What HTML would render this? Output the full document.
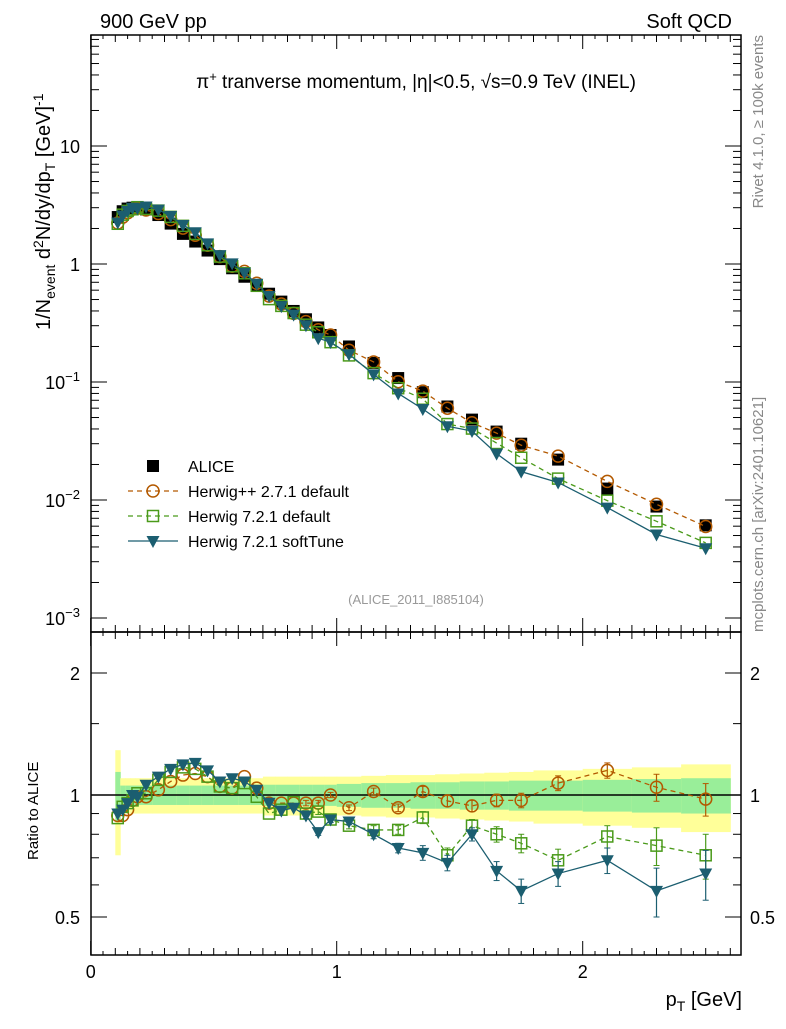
<!DOCTYPE html>
<html><head><meta charset="utf-8"><style>
body{margin:0;background:#fff}
svg text{font-family:"Liberation Sans",sans-serif}
</style></head><body>
<svg id="c" width="786" height="1024" xmlns="http://www.w3.org/2000/svg">
<text x="100" y="28" font-size="20">900 GeV pp</text>
<text x="732" y="28" font-size="20" text-anchor="end">Soft QCD</text>
<text x="416" y="88" font-size="19" text-anchor="middle">π<tspan dy="-7" font-size="13">+</tspan><tspan dy="7"> tranverse momentum, |η|&lt;0.5, √s=0.9 TeV (INEL)</tspan></text>
<text x="416" y="604" font-size="13" fill="#999" text-anchor="middle">(ALICE_2011_I885104)</text>
<text transform="translate(763,35) rotate(-90)" font-size="15" fill="#888" text-anchor="end">Rivet 4.1.0, ≥ 100k events</text>
<text transform="translate(763,632) rotate(-90)" font-size="15" fill="#888">mcplots.cern.ch [arXiv:2401.10621]</text>
<text transform="translate(50,330) rotate(-90)" font-size="20">1/N<tspan font-size="14" dy="5">event</tspan><tspan dy="-5"> d</tspan><tspan font-size="14" dy="-7">2</tspan><tspan dy="7">N/dy/dp</tspan><tspan font-size="14" dy="5">T</tspan><tspan dy="-5"> [GeV]</tspan><tspan font-size="14" dy="-7">-1</tspan></text>
<text transform="translate(38,860) rotate(-90)" font-size="15">Ratio to ALICE</text>
<text x="742" y="1006" font-size="20" text-anchor="end">p<tspan font-size="14" dy="5">T</tspan><tspan dy="-5"> [GeV]</tspan></text>
<g id="g"></g>
</svg>
<script>
const pt=[0.11,0.13,0.15,0.17,0.19,0.225,0.275,0.325,0.375,0.425,0.475,0.525,0.575,0.625,0.675,0.725,0.775,0.825,0.875,0.925,0.975,1.05,1.15,1.25,1.35,1.45,1.55,1.65,1.75,1.9,2.1,2.3,2.5];
const alice=[2.5,2.8,2.95,3.0,3.0,2.9,2.6,2.2,1.8,1.55,1.3,1.1,0.92,0.78,0.66,0.56,0.48,0.40,0.34,0.29,0.25,0.2,0.145,0.108,0.082,0.062,0.048,0.038,0.030,0.022,0.0125,0.0088,0.0061];
const rHpp=[0.89,0.89,0.92,0.97,0.99,0.99,1.03,1.08,1.12,1.13,1.11,1.05,1.04,1.11,1.04,0.955,0.955,0.955,0.955,0.955,1.0,0.93,1.02,0.93,1.02,0.967,0.94,0.97,0.97,1.07,1.15,1.045,0.977];
const rH72=[0.877,0.935,0.955,0.97,1.01,1.01,1.09,1.14,1.17,1.16,1.11,1.05,1.04,1.07,0.99,0.90,0.92,0.96,0.90,0.91,0.87,0.84,0.82,0.82,0.88,0.71,0.84,0.80,0.76,0.69,0.79,0.75,0.71];
const rSoft=[0.90,0.92,0.955,1.0,0.99,1.06,1.11,1.16,1.19,1.20,1.15,1.08,1.10,1.08,1.03,0.957,0.915,0.93,0.89,0.81,0.87,0.86,0.80,0.74,0.72,0.68,0.80,0.65,0.58,0.64,0.69,0.58,0.64];
const mcErr=[0.01,0.01,0.01,0.01,0.01,0.01,0.01,0.01,0.01,0.01,0.01,0.01,0.01,0.01,0.01,0.01,0.01,0.01,0.015,0.015,0.015,0.015,0.02,0.02,0.03,0.03,0.03,0.035,0.04,0.045,0.05,0.08,0.09];
const bandEdges=[0.1,0.12,0.14,0.16,0.18,0.2,0.25,0.3,0.35,0.4,0.45,0.5,0.55,0.6,0.65,0.7,0.75,0.8,0.85,0.9,0.95,1.0,1.1,1.2,1.3,1.4,1.5,1.6,1.7,1.8,2.0,2.2,2.4,2.6];
const totErr=[0.29,0.10,0.10,0.10,0.10,0.10,0.10,0.10,0.10,0.10,0.10,0.10,0.10,0.10,0.10,0.11,0.11,0.11,0.11,0.11,0.11,0.11,0.115,0.12,0.12,0.125,0.13,0.135,0.14,0.15,0.16,0.17,0.19];
const statErr=[0.14,0.055,0.055,0.055,0.055,0.055,0.055,0.055,0.055,0.055,0.055,0.055,0.055,0.055,0.055,0.06,0.06,0.06,0.06,0.06,0.06,0.065,0.07,0.07,0.075,0.075,0.08,0.08,0.085,0.085,0.09,0.095,0.10];
const yTicks=["10<tspan dy='-8' font-size='13'>−3</tspan>","10<tspan dy='-8' font-size='13'>−2</tspan>","10<tspan dy='-8' font-size='13'>−1</tspan>","1","10"];
const xTicks=[0,1,2];
const rTicks=[0.5,1,2];

const X0=91,X1=741,T0=35,T1=632,R1=955;
const sx=v=>90.7+246*v;
const sy=v=>264-118*Math.log10(v);
const sr=v=>795-122*Math.log2(v);
const NS="http://www.w3.org/2000/svg";
const g=document.getElementById('g');
function mk(t,a,p){const e=document.createElementNS(NS,t);for(const k in a)e.setAttribute(k,a[k]);(p||g).appendChild(e);return e;}
for(let i=0;i<pt.length;i++){
 const a=sx(bandEdges[i]),b=sx(bandEdges[i+1]);
 let e=mk('rect',{x:a,y:sr(1+totErr[i]),width:b-a+0.5,height:sr(1-totErr[i])-sr(1+totErr[i]),fill:'#ffff99'});
 
 e=mk('rect',{x:a,y:sr(1+statErr[i]),width:b-a+0.5,height:sr(1-statErr[i])-sr(1+statErr[i]),fill:'#99ee99'});
 
}
let ln=mk('line',{x1:X0,x2:X1,y1:sr(1),y2:sr(1),stroke:'#000','stroke-width':1.5});

for(const [y0,y1,n] of [[T0,T1,'main-frame'],[T1,R1,'ratio-frame']]){
 const f=mk('rect',{x:X0,y:y0,width:X1-X0,height:y1-y0,fill:'none',stroke:'#000','stroke-width':1.5});
 
}
for(let k=0;k<=52;k++){const v=k*0.05,x=sx(v);if(x>X1)break;const L=k%20==0?14:(k%2==0?7:4);
 for(const y of [T1,R1])mk('line',{x1:x,x2:x,y1:y,y2:y-L,stroke:'#000'});
 for(const y of [T0,T1])mk('line',{x1:x,x2:x,y1:y,y2:y+L,stroke:'#000'});}
xTicks.forEach(v=>{const t=mk('text',{x:sx(v),y:978,'font-size':18,'text-anchor':'middle'});t.textContent=v;
 });
for(let d=-3;d<=1;d++){for(let m=1;m<10;m++){const v=m*Math.pow(10,d),y=sy(v);if(y<T0||y>T1)continue;const L=m==1?16:8;
 mk('line',{x1:X0,x2:X0+L,y1:y,y2:y,stroke:'#000'});mk('line',{x1:X1,x2:X1-L,y1:y,y2:y,stroke:'#000'});}}
yTicks.forEach((s,i)=>{const t=mk('text',{x:80,y:sy(Math.pow(10,i-3))+7,'font-size':18,'text-anchor':'end'});t.innerHTML=s;
 });
[0.5,0.6,0.7,0.8,0.9,1,1.5,2].forEach(v=>{const y=sr(v),L=rTicks.includes(v)?16:8;
 mk('line',{x1:X0,x2:X0+L,y1:y,y2:y,stroke:'#000'});mk('line',{x1:X1,x2:X1-L,y1:y,y2:y,stroke:'#000'});});
rTicks.forEach(v=>{for(const [x,a] of [[80,'end'],[750,'start']]){const t=mk('text',{x:x,y:sr(v)+7,'font-size':18,'text-anchor':a});t.textContent=v;
 }});
function marker(kind,x,y,col,p){
 if(kind=='sq')return mk('rect',{x:x-5.5,y:y-5.5,width:11,height:11,fill:'none',stroke:col,'stroke-width':1.5},p);
 if(kind=='ci')return mk('circle',{cx:x,cy:y,r:6,fill:'none',stroke:col,'stroke-width':1.5},p);
 if(kind=='tr')return mk('path',{d:`M${x-6.5},${y-5}L${x+6.5},${y-5}L${x},${y+7}Z`,fill:col},p);
 if(kind=='bk')return mk('rect',{x:x-6,y:y-6,width:12,height:12,fill:'#000'},p);
}
const series=[
 {r:rHpp,col:'#b35900',k:'ci',dash:'5,4',name:'herwigpp-271-default'},
 {r:rH72,col:'#4a9a1a',k:'sq',dash:'5,4',name:'herwig-721-default'},
 {r:rSoft,col:'#1b5e70',k:'tr',dash:'',name:'herwig-721-softtune'}];
alice.forEach((v,i)=>{const m=marker('bk',sx(pt[i]),sy(v));});
series.forEach(s=>{
 const gg=mk('g',{});
 const pm=pt.map((p,i)=>sx(p)+','+sy(alice[i]*s.r[i])).join(' ');
 mk('polyline',{points:pm,fill:'none',stroke:s.col,'stroke-width':1.3,'stroke-dasharray':s.dash},gg);
 const pr=pt.map((p,i)=>sx(p)+','+sr(s.r[i])).join(' ');
 mk('polyline',{points:pr,fill:'none',stroke:s.col,'stroke-width':1.3,'stroke-dasharray':s.dash},gg);
 pt.forEach((p,i)=>{
  const x=sx(p),e=mcErr[i];
  if(e>0.012){mk('line',{x1:x,x2:x,y1:sr(s.r[i]+e),y2:sr(s.r[i]-e),stroke:s.col,'stroke-width':1.2},gg);
   for(const v of [s.r[i]+e,s.r[i]-e])mk('line',{x1:x-3,x2:x+3,y1:sr(v),y2:sr(v),stroke:s.col},gg);}
  let m=marker(s.k,x,sy(alice[i]*s.r[i]),s.col,gg);
  m=marker(s.k,x,sr(s.r[i]),s.col,gg);
 });
});
const lg=mk('g',{});
const lgItems=[['ALICE','#000','bk',''],['Herwig++ 2.7.1 default','#b35900','ci','5,4'],['Herwig 7.2.1 default','#4a9a1a','sq','5,4'],['Herwig 7.2.1 softTune','#1b5e70','tr','']];
lgItems.forEach((it,i)=>{const y=466+25*i;
 const e=mk('g',{},lg);
 if(i>0)mk('line',{x1:128,x2:178,y1:y,y2:y,stroke:it[1],'stroke-width':1.3,'stroke-dasharray':it[3]},e);
 marker(it[2],153,y,it[1],e);
 const t=mk('text',{x:188,y:y+6,'font-size':16},e);t.textContent=it[0];});
</script>
</body></html>
